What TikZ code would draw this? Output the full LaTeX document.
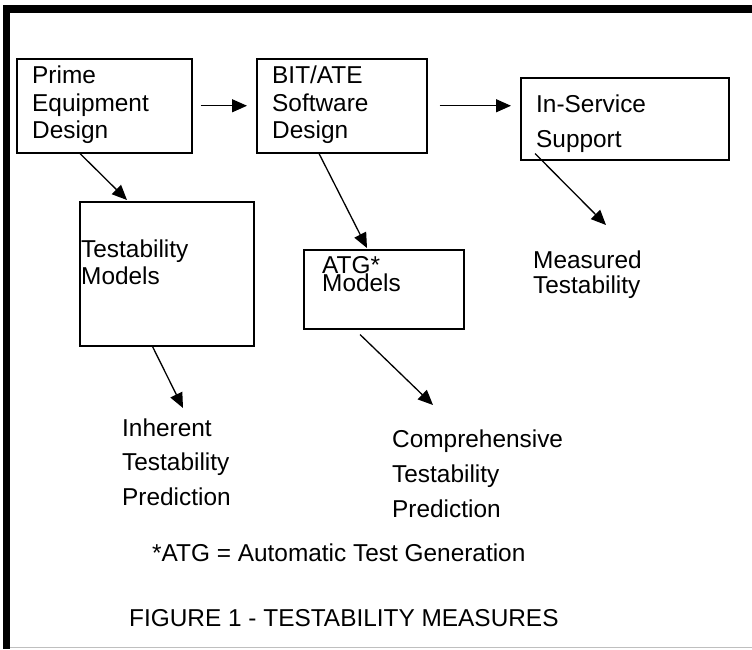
\documentclass[tikz,border=0pt]{standalone}
\usepackage{fontspec}
\setmainfont{Liberation Sans}
\usetikzlibrary{arrows.meta,calc}
\begin{document}
\begin{tikzpicture}[x=1pt,y=-1pt,
  box/.style={draw,line width=1.5pt,inner sep=0pt,anchor=north west,
              minimum width=#1},
  lbl/.style={anchor=base west,inner sep=0pt,font=\fontsize{24.4}{28}\selectfont},
  flow/.style={line width=1.3pt,-{Triangle[length=15pt,width=13pt]}}]
  \useasboundingbox (0,0) rectangle (752,649);
  % page frame
  \draw[line width=8pt] (3,9) -- (752,9);
  \draw[line width=7pt] (6.5,5) -- (6.5,649);
  \draw[line width=1.5pt,black!25] (10,647.5) -- (752,647.5);

  % boxes
  \node[box=175pt,minimum height=94pt] (prime) at (16,58) {};
  \node[box=170pt,minimum height=94pt] (bit)   at (256,58) {};
  \node[box=208pt,minimum height=82pt] (insvc) at (520,77) {};
  \node[box=174pt,minimum height=144pt] (tmod) at (79,201) {};
  \node[box=160pt,minimum height=79pt] (atg)   at (303,249) {};

  % box texts
  \node[lbl] (p1) at (32,83)  {Prime};
  \node[lbl] (p2) at (32,111) {Equipment};
  \node[lbl] (p3) at (32,138) {Design};
  \node[lbl] (b1) at (272,83)  {BIT/ATE};
  \node[lbl] (b2) at (272,111) {Software};
  \node[lbl] (b3) at (272,138) {Design};
  \node[lbl] (s1) at (536,112) {In-Service};
  \node[lbl] (s2) at (536,147) {Support};
  \node[lbl] (t1) at (81,257) {Testability};
  \node[lbl] (t2) at (81,284) {Models};
  \node[lbl] (a1) at (322,273) {ATG*};
  \node[lbl] (a2) at (322,291) {Models};

  % outcome texts
  \node[lbl] (m1) at (533,268) {Measured};
  \node[lbl] (m2) at (533,293) {Testability};
  \node[lbl] (i1) at (122,436) {Inherent};
  \node[lbl] (i2) at (122,470) {Testability};
  \node[lbl] (i3) at (122,505) {Prediction};
  \node[lbl] (c1) at (392,447) {Comprehensive};
  \node[lbl] (c2) at (392,482) {Testability};
  \node[lbl] (c3) at (392,517) {Prediction};

  % footnote and caption
  \node[lbl] (note) at (152,561) {*ATG = Automatic Test Generation};
  \node[lbl] (cap)  at (129,626) {FIGURE 1 - TESTABILITY MEASURES};

  % connectors
  \draw[flow] ($(prime.east)+(8,0)$) -- ($(bit.west)+(-9,0)$);
  \draw[flow] ($(bit.east)+(12,0)$) -- ($(insvc.west |- bit.east)+(-9,0)$);
  \draw[flow] ($(prime.south west)+(64,0)$) -- ($(tmod.north west)+(48,-1)$);
  \draw[flow] ($(bit.south west)+(63,0)$) -- ($(atg.north west)+(64,-1)$);
  \draw[flow] ($(insvc.south west)+(15,-7)$) -- ($(m1.base west)+(73,-43)$);
  \draw[flow] ($(tmod.south west)+(73,-1)$) -- ($(i1.base west)+(61,-28)$);
  \draw[flow] ($(atg.south west)+(57,5)$) -- ($(c1.base west)+(41,-42)$);
\end{tikzpicture}
\end{document}
